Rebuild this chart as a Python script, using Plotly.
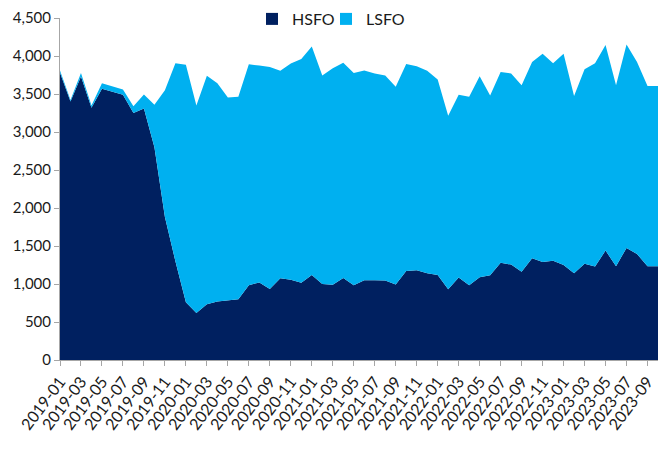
import plotly.graph_objects as go

months = [f"{y}-{m:02d}" for y in range(2019, 2024) for m in range(1, 13)][:58]

hsfo = [3780, 3400, 3730, 3320, 3570, 3530, 3490, 3250, 3310, 2800,
        1880, 1300, 760, 620, 735, 770, 785, 800, 985, 1020,
        935, 1075, 1055, 1015, 1120, 1000, 990, 1080, 985, 1050,
        1050, 1045, 995, 1170, 1180, 1140, 1120, 930, 1085, 985,
        1090, 1115, 1280, 1255, 1160, 1340, 1290, 1305, 1250, 1140,
        1265, 1230, 1440, 1235, 1475, 1395, 1235, 1235]

lsfo = [30, 20, 45, 30, 70, 75, 70, 90, 185, 560,
        1670, 2605, 3125, 2730, 3005, 2870, 2670, 2665, 2905, 2855,
        2920, 2730, 2845, 2945, 3005, 2745, 2850, 2830, 2790, 2760,
        2720, 2700, 2600, 2725, 2685, 2665, 2570, 2285, 2405, 2480,
        2645, 2365, 2510, 2515, 2455, 2580, 2740, 2600, 2780, 2335,
        2560, 2675, 2705, 2380, 2675, 2525, 2370, 2370]

tick_labels = months[0:57:2]

C_HSFO = "#002060"
C_LSFO = "#00B0F0"

fig = go.Figure()
fig.add_trace(go.Scatter(x=months, y=hsfo, name="HSFO", mode="lines",
                         stackgroup="one", line=dict(width=0, color=C_HSFO),
                         fillcolor=C_HSFO, showlegend=False))
fig.add_trace(go.Scatter(x=months, y=lsfo, name="LSFO", mode="lines",
                         stackgroup="one", line=dict(width=0, color=C_LSFO),
                         fillcolor=C_LSFO, showlegend=False))
# legend entries (square swatches)
fig.add_trace(go.Scatter(x=[None], y=[None], name="HSFO", mode="markers",
                         marker=dict(symbol="square", size=12, color=C_HSFO),
                         legend="legend"))
fig.add_trace(go.Scatter(x=[None], y=[None], name="LSFO", mode="markers",
                         marker=dict(symbol="square", size=12, color=C_LSFO),
                         legend="legend2"))

leg_common = dict(orientation="h", xanchor="left", xref="container",
                  y=1 - 11 / 450, yanchor="middle", yref="container",
                  font=dict(size=16, color="#1a1a1a"), bgcolor="rgba(0,0,0,0)",
                  itemwidth=30)

fig.update_layout(
    width=669, height=450,
    margin=dict(l=52, r=19, t=10, b=98, autoexpand=False),
    plot_bgcolor="white", paper_bgcolor="white",
    font=dict(family="Lato, 'Open Sans', sans-serif", color="#1a1a1a", size=14),
    showlegend=True,
    legend=dict(x=244 / 669, **leg_common),
    legend2=dict(x=318 / 669, **leg_common),
)
fig.update_xaxes(type="category", range=[0, len(months) - 1], automargin=False,
                 tickmode="array", tickvals=tick_labels, ticktext=tick_labels,
                 tickangle=-53, tickfont=dict(size=16),
                 ticklabeloverflow="allow",
                 showline=True, linecolor="#a6a6a6", linewidth=1,
                 ticks="outside", ticklen=5, tickcolor="#a6a6a6",
                 showgrid=False, zeroline=False)
fig.update_yaxes(range=[0, 4500], dtick=500, tickformat=",", automargin=False,
                 ticklabeloverflow="allow",
                 showline=True, linecolor="#a6a6a6", linewidth=1,
                 ticks="outside", ticklen=5, tickcolor="#a6a6a6",
                 tickfont=dict(size=15),
                 showgrid=False, zeroline=False)

fig.write_html("out.html")
